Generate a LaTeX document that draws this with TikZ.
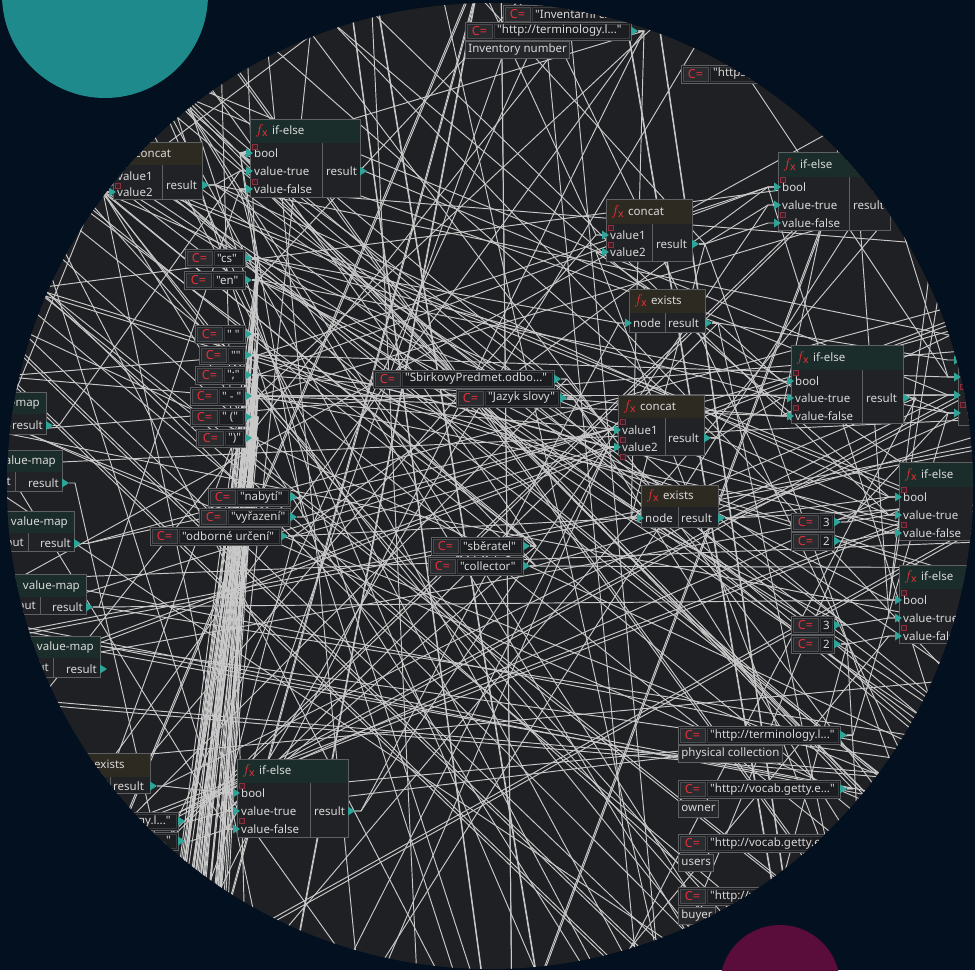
\documentclass[tikz,border=0pt]{standalone}
\usepackage{fontspec}
\setmainfont{Noto Sans}[Ligatures=TeXOff]
\usetikzlibrary{calc}

\definecolor{navy}{HTML}{03101F}
\definecolor{tealc}{HTML}{1E8A8C}
\definecolor{plum}{HTML}{5A0D3A}
\definecolor{canvas}{HTML}{1F2023}
\definecolor{wirec}{HTML}{C9C9C9}
\definecolor{framec}{HTML}{5E6062}
\definecolor{bodyc}{HTML}{212226}
\definecolor{hdgreen}{HTML}{1B2D2A}
\definecolor{hdbrown}{HTML}{2D2A21}
\definecolor{portc}{HTML}{2FA59A}
\definecolor{fxred}{HTML}{E5303A}
\definecolor{txtc}{HTML}{D9D9D9}
\definecolor{mkred}{HTML}{8C2E3E}
\definecolor{mkfill}{HTML}{3A2026}
\definecolor{cbodyc}{HTML}{1C1D21}
\definecolor{iconbg}{HTML}{2A2B2F}
\definecolor{iconfr}{HTML}{4A4B4F}
\definecolor{innerfr}{HTML}{3A3B3F}
\definecolor{lblbg}{HTML}{26272A}

\pgfdeclarelayer{back}
\pgfdeclarelayer{wires}
\pgfsetlayers{back,wires,main}

\tikzset{
  frame/.style={draw=framec, line width=0.9pt},
  wire/.style={draw=wirec, line width=0.95pt, line join=round},
  lbl/.style={text=txtc, font=\fontsize{11.5}{12}\selectfont, inner sep=0pt},
  cicon/.style={text=fxred, font=\fontsize{12.5}{12}\selectfont\bfseries, inner sep=0pt},
  tag/.style={fill=lblbg, draw=framec, line width=0.8pt, text=txtc,
    font=\fontsize{11.5}{12}\selectfont, inner xsep=3pt, inner ysep=0pt,
    minimum height=17pt, anchor=north west},
}

\newcommand\fxicon{\textcolor{fxred}{\fontsize{15}{15}\selectfont$f_{\mathrm{x}}$}}

% output port: name, x, y
\newcommand\portout[3]{%
  \fill[portc] (#2,#3-4.5) -- (#2+7,#3) -- (#2,#3+4.5) -- cycle;
  \coordinate (#1) at (#2+7,#3);}
% input port: name, box edge x, y, label
\newcommand\portin[4]{%
  \fill[portc] (#2-4,#3-4.5) -- (#2+3,#3) -- (#2-4,#3+4.5) -- cycle;
  \coordinate (#1) at (#2-4,#3);
  \node[lbl, anchor=west] at (#2+4,#3) {#4};}
% small expander mark
\newcommand\pmark[2]{\path[fill=mkfill, draw=mkred, line width=0.6pt] (#1,#2) rectangle ++(5,5);}
% vertical divider: x, y1, y2
\newcommand\vdiv[3]{\draw[frame] (#1,#2) -- (#1,#3);}
% function box: name, x, y, w, h, header height, header colour, title
\newcommand\fnbox[8]{%
  \path[fill=bodyc, frame] (#2,#3) rectangle ++(#4,#5);
  \path[fill=#7] (#2+0.5,#3+0.5) rectangle ++(#4-1,#6-0.5);
  \node[lbl, anchor=west] (#1) at (#2+5,#3+#6/2) {\fxicon\hspace{4pt}#8};}
% constant: name, x, y, w, text
\newcommand\constbox[5]{%
  \path[fill=cbodyc, frame] (#2,#3) rectangle ++(#4,18);
  \path[fill=iconbg, draw=iconfr, line width=0.6pt] (#2+2,#3+2) rectangle ++(25,14);
  \node[cicon] at (#2+14.5,#3+9) {C=};
  \path[draw=innerfr, line width=0.6pt] (#2+29,#3+2) rectangle (#2+#4-2,#3+16);
  \node[lbl, anchor=west] (#1-t) at (#2+32,#3+9) {#5};
  \portout{#1}{#2+#4}{#3+9}}
% value-map box: name, right x, top, bottom, header bottom, divider x
\newcommand\vmbox[6]{%
  \pgfmathsetmacro\hy{(#3+#5)/2}
  \pgfmathsetmacro\ry{(#5+#4)/2+1.5}
  \path[fill=bodyc, frame] (#2-150,#3) rectangle (#2,#4);
  \path[fill=hdgreen] (#2-149.5,#3+0.5) rectangle (#2-0.5,#5);
  \node[lbl, anchor=east] at (#2-6,\hy) {\fxicon\hspace{4pt}value-map};
  \draw[frame] (#6,#5) -- (#6,#4);
  \node[lbl, anchor=east] at (#6-4,\ry) {input};
  \node[lbl, anchor=east] at (#2-3,\ry) {result};
  \portout{#1}{#2}{\ry}}
% connector with short stubs at both ports
\newcommand\wirelink[2]{\draw[wire] (#1) -- ++(6,0) -- ([xshift=-6pt]#2) -- (#2);}

\begin{document}
\begin{tikzpicture}[x=1pt,y=-1pt]
\useasboundingbox (0,0) rectangle (975,970);

\begin{pgfonlayer}{back}
  \fill[navy] (0,0) rectangle (975,970);
  \fill[tealc] (105,-5) circle[radius=103pt];
  \fill[plum] (780,985) circle[radius=60pt];
  \fill[canvas] (490,486) circle[radius=483pt];
\end{pgfonlayer}

\begin{scope}
  \clip (490,486) circle[radius=483pt];

  % ---- constants at the top
  \constbox{inv}{503}{5}{170}{"Inventární číslo"}
  \constbox{term}{465}{22}{166}{"http://terminology.l..."}
  \node[tag] (invlbl) at (465,41) {Inventory number};
  \constbox{https}{681}{65}{160}{"https://..."}

  % ---- top left concat + if-else
  \fnbox{concatA}{113}{142}{89}{57}{23}{hdbrown}{concat}
  \vdiv{162}{165}{199}
  \portin{concatAa}{113}{176}{value1}
  \portin{concatAb}{113}{192}{value2}
  \pmark{115}{166}\pmark{115}{183}
  \node[lbl, anchor=west] at (166,185) {result};
  \portout{concatAr}{202}{185}

  \fnbox{ifA}{250}{119}{110}{78}{24}{hdgreen}{if-else}
  \vdiv{322}{143}{197}
  \portin{ifAb}{250}{153}{bool}
  \portin{ifAt}{250}{171}{value-true}
  \portin{ifAf}{250}{189}{value-false}
  \pmark{252}{144}\pmark{252}{179}
  \node[lbl, anchor=west] at (326,171) {result};
  \portout{ifAr}{360}{171}

  % ---- language constants and separators
  \constbox{cs}{185}{249}{60}{"cs"}
  \constbox{en}{184}{271}{61}{"en"}
  \constbox{k1}{195}{325}{50}{" "}
  \constbox{k2}{199}{346}{46}{""}
  \constbox{k3}{195}{366}{50}{";"}
  \constbox{k4}{190}{387}{55}{" - "}
  \constbox{k5}{190}{408}{55}{" ("}
  \constbox{k6}{196}{429}{49}{")"}

  % ---- centre
  \constbox{sbirk}{373}{370}{181}{"SbirkovyPredmet.odbo..."}
  \constbox{jazyk}{456}{389}{104}{"Jazyk slovy"}

  \fnbox{concatB}{606}{199}{86}{62}{25}{hdbrown}{concat}
  \vdiv{652}{224}{261}
  \portin{concatBa}{606}{235}{value1}
  \portin{concatBb}{606}{252}{value2}
  \pmark{608}{225}\pmark{608}{242}
  \node[lbl, anchor=west] at (656,244) {result};
  \portout{concatBr}{692}{244}

  \fnbox{ifB}{778}{152}{112}{78}{25}{hdgreen}{if-else}
  \vdiv{849}{177}{230}
  \portin{ifBb}{778}{187}{bool}
  \portin{ifBt}{778}{205}{value-true}
  \portin{ifBf}{778}{223}{value-false}
  \pmark{780}{177}\pmark{780}{212}
  \node[lbl, anchor=west] at (853,205) {result};
  \portout{ifBr}{890}{205}

  \fnbox{existsA}{629}{289}{76}{43}{24}{hdbrown}{exists}
  \vdiv{665}{313}{332}
  \portin{existsAn}{629}{323}{node}
  \node[lbl, anchor=west] at (668,323) {result};
  \portout{existsAr}{705}{323}

  \fnbox{ifC}{791}{345}{112}{78}{25}{hdgreen}{if-else}
  \vdiv{862}{370}{423}
  \portin{ifCb}{791}{381}{bool}
  \portin{ifCt}{791}{398}{value-true}
  \portin{ifCf}{791}{416}{value-false}
  \pmark{793}{370}\pmark{793}{405}
  \node[lbl, anchor=west] at (866,398) {result};
  \portout{ifCr}{903}{398}

  % box at the right rim
  \path[fill=bodyc, frame] (958,330) rectangle ++(110,95);
  \portin{R1}{958}{360}{}
  \portin{R2}{958}{377}{}
  \portin{R3}{958}{395}{}
  \portin{R4}{958}{413}{}
  \pmark{960}{384}\pmark{960}{402}

  \fnbox{concatC}{618}{395}{86}{60}{23}{hdbrown}{concat}
  \vdiv{665}{418}{455}
  \portin{concatCa}{618}{430}{value1}
  \portin{concatCb}{618}{447}{value2}
  \pmark{620}{419}\pmark{620}{437}\pmark{620}{454}
  \node[lbl, anchor=west] at (668,438) {result};
  \portout{concatCr}{704}{438}

  \fnbox{existsB}{641}{485}{77}{42}{22}{hdbrown}{exists}
  \vdiv{678}{507}{527}
  \portin{existsBn}{641}{518}{node}
  \node[lbl, anchor=west] at (681,518) {result};
  \portout{existsBr}{718}{518}

  \constbox{c3a}{791}{513}{43}{3}
  \constbox{c2a}{791}{532}{43}{2}
  \constbox{c3b}{791}{616}{43}{3}
  \constbox{c2b}{791}{635}{43}{2}

  \fnbox{ifD}{899}{462}{110}{78}{25}{hdgreen}{if-else}
  \portin{ifDb}{899}{497}{bool}
  \portin{ifDt}{899}{515}{value-true}
  \portin{ifDf}{899}{533}{value-false}
  \pmark{901}{487}\pmark{901}{522}

  \fnbox{ifE}{899}{565}{110}{78}{24}{hdgreen}{if-else}
  \portin{ifEb}{899}{600}{bool}
  \portin{ifEt}{899}{618}{value-true}
  \portin{ifEf}{899}{636}{value-false}
  \pmark{901}{590}\pmark{901}{625}

  % ---- value maps on the left
  \vmbox{vm1}{46}{392}{434}{414}{4}
  \vmbox{vm2}{62}{450}{491}{472}{15}
  \vmbox{vm3}{74}{511}{551}{533}{28}
  \vmbox{vm4}{86}{574}{614}{597}{40}
  \vmbox{vm5}{100}{636}{677}{658}{53}

  \constbox{nabyti}{208}{488}{82}{"nabytí"}
  \constbox{vyraz}{199}{508}{91}{"vyřazení"}
  \constbox{odb}{150}{527}{131}{"odborné určení"}

  \constbox{sber}{431}{537}{92}{"sběratel"}
  \constbox{coll}{428}{557}{95}{"collector"}

  % ---- bottom left
  \fnbox{existsC}{72}{753}{78}{40}{24}{hdbrown}{exists}
  \vdiv{110}{777}{793}
  \portin{existsCn}{72}{786}{node}
  \node[lbl, anchor=west] at (113,786) {result};
  \portout{existsCr}{150}{786}

  \constbox{bl1}{14}{812}{164}{"http://terminology.l..."}
  \constbox{bl2}{14}{832}{164}{"http://vocab.getty.e..."}

  \fnbox{ifF}{237}{759}{111}{78}{24}{hdgreen}{if-else}
  \vdiv{310}{783}{837}
  \portin{ifFb}{237}{793}{bool}
  \portin{ifFt}{237}{811}{value-true}
  \portin{ifFf}{237}{829}{value-false}
  \pmark{239}{783}\pmark{239}{818}
  \node[lbl, anchor=west] at (314,811) {result};
  \portout{ifFr}{348}{811}

  % ---- bottom right
  \constbox{rb1}{678}{726}{162}{"http://terminology.l..."}
  \node[tag] (physlbl) at (678,745) {physical collection};
  \constbox{rb2}{678}{780}{162}{"http://vocab.getty.e..."}
  \node[tag] (ownlbl) at (678,800) {owner};
  \constbox{rb3}{678}{834}{162}{"http://vocab.getty.e..."}
  \node[tag] (usrlbl) at (678,854) {users};
  \constbox{rb4}{678}{887}{162}{"http://vocab.getty.e..."}
  \node[tag] (buylbl) at (678,907) {buyer};
\end{scope}

\begin{pgfonlayer}{wires}
  \clip (490,486) circle[radius=483pt];

  % direct connections
  \wirelink{concatAr}{ifAt}
  \wirelink{en}{ifAb}
  \wirelink{cs}{ifAf}
  \wirelink{concatBr}{ifBt}
  \wirelink{concatBr}{ifBf}
  \wirelink{existsAr}{ifCb}
  \wirelink{concatCr}{ifCt}
  \wirelink{sbirk}{concatCa}
  \wirelink{jazyk}{concatCb}
  \wirelink{existsBr}{ifDb}
  \wirelink{c3a}{ifDt}
  \wirelink{c2a}{ifDf}
  \wirelink{c3b}{ifEt}
  \wirelink{c2b}{ifEf}
  \wirelink{existsCr}{ifFb}
  \wirelink{bl1}{ifFt}
  \wirelink{bl2}{ifFf}
  \wirelink{odb}{existsBn}

  \pgfmathsetseed{20231}
  \pgfmathdeclarerandomlist{outs}{{cs}{en}{k1}{k2}{k3}{k4}{k5}{k6}{k1}{k4}{nabyti}{vyraz}{odb}{sber}{coll}{sbirk}{jazyk}{vm1}{vm2}{vm3}{vm4}{vm5}{existsAr}{existsBr}{existsCr}{concatAr}{concatBr}{concatCr}{ifAr}{ifCr}{ifFr}{c3a}{c2a}{c3b}{c2b}{rb1}{rb2}{term}{inv}{https}}
  \pgfmathdeclarerandomlist{ins}{{ifAb}{ifAt}{ifAf}{ifBb}{ifBt}{ifBf}{ifCb}{ifCt}{ifCf}{ifDb}{ifDt}{ifDf}{ifEb}{ifEt}{ifEf}{ifFb}{ifFt}{ifFf}{concatAa}{concatAb}{concatBa}{concatBb}{concatCa}{concatCb}{existsAn}{existsBn}{R1}{R2}{R3}{R4}}
  \pgfmathdeclarerandomlist{col}{{k1}{k2}{k3}{k4}{k5}{k6}{cs}{en}}

  % connections between visible components
  \foreach \i in {1,...,52}{
    \pgfmathrandomitem{\src}{outs}
    \pgfmathrandomitem{\dst}{ins}
    \draw[wire] (\src) -- ++(6,0) -- ([xshift=-6pt]\dst) -- (\dst);
  }
  % outputs leading to components beyond the view
  \foreach \i in {1,...,38}{
    \pgfmathrandomitem{\src}{outs}
    \pgfmathsetmacro\ang{rnd*360}
    \pgfmathsetmacro\ex{490+560*cos(\ang)}
    \pgfmathsetmacro\ey{486-560*sin(\ang)}
    \draw[wire] (\src) -- ++(6,0) -- (\ex,\ey);
  }
  % inputs fed from components beyond the view
  \foreach \i in {1,...,32}{
    \pgfmathrandomitem{\dst}{ins}
    \pgfmathsetmacro\ang{rnd*360}
    \pgfmathsetmacro\ex{490+560*cos(\ang)}
    \pgfmathsetmacro\ey{486-560*sin(\ang)}
    \draw[wire] (\ex,\ey) -- ([xshift=-6pt]\dst) -- (\dst);
  }
  % wires passing straight through
  \foreach \i in {1,...,58}{
    \pgfmathsetmacro\aa{rnd*360}
    \pgfmathsetmacro\bb{\aa+120+rnd*120}
    \pgfmathsetmacro\ax{490+560*cos(\aa)}
    \pgfmathsetmacro\ay{486-560*sin(\aa)}
    \pgfmathsetmacro\bx{490+560*cos(\bb)}
    \pgfmathsetmacro\by{486-560*sin(\bb)}
    \pgfmathtruncatemacro\dbl{rnd<0.4 ? 1 : 0}
    \draw[wire] (\ax,\ay) -- (\bx,\by);
    \ifnum\dbl=1 \draw[wire] (\ax,\ay+4) -- (\bx,\by+4); \fi
  }
  % upper left towards lower right
  \foreach \i in {1,...,22}{
    \pgfmathsetmacro\aa{122+rnd*35}
    \pgfmathsetmacro\bb{280+rnd*60}
    \pgfmathsetmacro\ax{490+560*cos(\aa)}
    \pgfmathsetmacro\ay{486-560*sin(\aa)}
    \pgfmathsetmacro\bx{490+560*cos(\bb)}
    \pgfmathsetmacro\by{486-560*sin(\bb)}
    \draw[wire] (\ax,\ay) -- (\bx,\by);
  }
  % dense bundle below the separator constants
  \foreach \i in {1,...,45}{
    \pgfmathrandomitem{\src}{col}
    \pgfmathsetmacro\tx{160+rnd*65}
    \draw[wire] (\src) -- ++(6,0) -- (\tx,1000);
  }
\end{pgfonlayer}
\end{tikzpicture}
\end{document}
